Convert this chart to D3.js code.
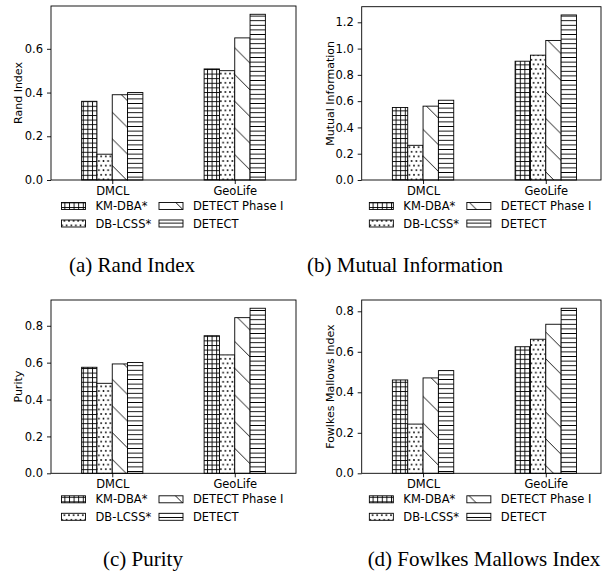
<!DOCTYPE html>
<html>
<head>
<meta charset="utf-8">
<script src="https://cdn.jsdelivr.net/npm/d3@7/dist/d3.min.js"></script>
<style>
  body { margin: 0; background: #fff; }
  svg { display: block; }
</style>
</head>
<body>
<div id="charts"></div>
<script>
// --- data --- //
const datasets = ["DMCL", "GeoLife"];
const methods = ["KM-DBA*", "DB-LCSS*", "DETECT Phase I", "DETECT"];
const metricNames = ["Rand Index", "Mutual Information", "Purity", "Fowlkes Mallows Index"];
const captions = ["(a) Rand Index", "(b) Mutual Information", "(c) Purity", "(d) Fowlkes Mallows Index"];

// rows = dataset, columns = method
const randIndex = [[0.36, 0.118, 0.39, 0.40], [0.508, 0.50, 0.65, 0.758]];
const mutualInfo = [[0.552, 0.264, 0.562, 0.607], [0.904, 0.95, 1.062, 1.256]];
const purity = [[0.575, 0.488, 0.593, 0.601], [0.746, 0.642, 0.844, 0.895]];
const fowlkes = [[0.461, 0.243, 0.471, 0.507], [0.625, 0.662, 0.736, 0.815]];

const yTicks = [
  [0, 0.2, 0.4, 0.6],
  [0, 0.2, 0.4, 0.6, 0.8, 1.0, 1.2],
  [0, 0.2, 0.4, 0.6, 0.8],
  [0, 0.2, 0.4, 0.6, 0.8]
];

const allValues = [randIndex, mutualInfo, purity, fowlkes];

//--- layout ---//
const width = 611;
const height = 581;
const font = "'DejaVu Sans', sans-serif";
const fontSize = 11.5;

const panels = [
  { left: 51, right: 296, top: 6, bottom: 180, xMax: 1.5, labelX: 18, capX: 132, capY: 272 },
  { left: 361.7, right: 601, top: 6.7, bottom: 180, xMax: 1.45, labelX: 330, capX: 405, capY: 272 },
  { left: 51, right: 296, top: 300, bottom: 473.3, xMax: 1.5, labelX: 18, capX: 143, capY: 566 },
  { left: 361.7, right: 601, top: 300, bottom: 473.3, xMax: 1.45, labelX: 330, capX: 484, capY: 566 }
];

const barW = 0.125;
const patterns = ["hatchGrid", "hatchDots", "hatchDiag", "hatchHoriz"];

const svg = d3.select("#charts")
  .append("svg")
  .attr("width", width)
  .attr("height", height);

//--- hatch patterns ---//
const defs = svg.append("defs");
const s = 4.6;

const pGrid = defs.append("pattern")
  .attr("id", "hatchGrid").attr("patternUnits", "userSpaceOnUse")
  .attr("width", s).attr("height", s);
pGrid.append("rect").attr("width", s).attr("height", s).attr("fill", "#fff");
pGrid.append("path").attr("d", `M0,0.5H${s}M0.5,0V${s}`)
  .attr("stroke", "#000").attr("stroke-width", 0.9);

const pDots = defs.append("pattern")
  .attr("id", "hatchDots").attr("patternUnits", "userSpaceOnUse")
  .attr("width", s).attr("height", 2 * s);
pDots.append("rect").attr("width", s).attr("height", 2 * s).attr("fill", "#fff");
[[0, 0], [s, 0], [0, 2 * s], [s, 2 * s], [s / 2, s]].forEach(([cx, cy]) => {
  pDots.append("circle").attr("cx", cx).attr("cy", cy).attr("r", 0.9).attr("fill", "#000");
});

const d = 26.7;
const pDiag = defs.append("pattern")
  .attr("id", "hatchDiag").attr("patternUnits", "userSpaceOnUse")
  .attr("width", d).attr("height", d);
pDiag.append("rect").attr("width", d).attr("height", d).attr("fill", "#fff");
pDiag.append("path").attr("d", `M-2,-2L${d + 2},${d + 2}M${d - 2},-2L${d + 2},2M-2,${d - 2}L2,${d + 2}`)
  .attr("stroke", "#000").attr("stroke-width", 0.9);

const pHoriz = defs.append("pattern")
  .attr("id", "hatchHoriz").attr("patternUnits", "userSpaceOnUse")
  .attr("width", s).attr("height", s);
pHoriz.append("rect").attr("width", s).attr("height", s).attr("fill", "#fff");
pHoriz.append("path").attr("d", `M0,${s / 2}H${s}`)
  .attr("stroke", "#000").attr("stroke-width", 0.9);

//--- panels ---//
panels.forEach((p, k) => {
  const values = allValues[k];
  const maxVal = d3.max(values.flat());

  const xScale = d3.scaleLinear().domain([-0.5, p.xMax]).range([p.left, p.right]);
  const yScale = d3.scaleLinear().domain([0, maxVal * 1.05]).range([p.bottom, p.top]);

  const g = svg.append("g");

  // bars
  datasets.forEach((ds, i) => {
    g.selectAll(".bar" + i)
      .data(values[i])
      .enter()
      .append("rect")
      .attr("x", (v, j) => xScale(i + (j - 2) * barW))
      .attr("width", xScale(barW) - xScale(0))
      .attr("y", (v) => yScale(v))
      .attr("height", (v) => yScale(0) - yScale(v))
      .attr("fill", (v, j) => `url(#${patterns[j]})`)
      .attr("stroke", "#000")
      .attr("stroke-width", 0.9);
  });

  // y-axis
  const yAxis = d3.axisLeft(yScale).tickValues(yTicks[k]).tickFormat(d3.format(".1f"))
    .tickSize(4).tickPadding(4);
  g.append("g")
    .attr("transform", `translate(${p.left},0)`)
    .call(yAxis)
    .call((a) => a.select(".domain").remove())
    .selectAll("text")
    .style("font-family", font)
    .style("font-size", fontSize + "px")
    .attr("fill", "#000");

  // x-axis
  const xAxis = d3.axisBottom(xScale).tickValues([0, 1]).tickFormat((v) => datasets[v])
    .tickSize(4).tickPadding(3);
  g.append("g")
    .attr("transform", `translate(0,${p.bottom})`)
    .call(xAxis)
    .call((a) => a.select(".domain").remove())
    .selectAll("text")
    .style("font-family", font)
    .style("font-size", fontSize + "px")
    .attr("fill", "#000");

  g.selectAll(".tick line").attr("stroke", "#000").attr("stroke-width", 0.9);

  // frame
  g.append("rect")
    .attr("x", p.left).attr("y", p.top)
    .attr("width", p.right - p.left).attr("height", p.bottom - p.top)
    .attr("fill", "none").attr("stroke", "#000").attr("stroke-width", 0.9);

  // y label
  g.append("text")
    .attr("transform", `translate(${p.labelX},${(p.top + p.bottom) / 2}) rotate(-90)`)
    .attr("text-anchor", "middle")
    .attr("dominant-baseline", "central")
    .style("font-family", font)
    .style("font-size", "11px")
    .text(metricNames[k]);

  // legend (2 columns)
  const legX = (p.left + p.right) / 2 - 112;
  const cols = [legX, legX + 97.5];
  methods.forEach((m, j) => {
    const col = Math.floor(j / 2);
    const row = j % 2;
    const cy = p.bottom + 26 + row * 17.5;
    g.append("rect")
      .attr("x", cols[col]).attr("y", cy - 3.5)
      .attr("width", 24).attr("height", 7)
      .attr("fill", `url(#${patterns[j]})`)
      .attr("stroke", "#000").attr("stroke-width", 0.9);
    g.append("text")
      .attr("x", cols[col] + 34).attr("y", cy)
      .attr("dominant-baseline", "central")
      .style("font-family", font)
      .style("font-size", fontSize + "px")
      .text(m);
  });

  // caption
  svg.append("text")
    .attr("x", p.capX).attr("y", p.capY)
    .attr("text-anchor", "middle")
    .style("font-family", "'Liberation Serif', 'Times New Roman', serif")
    .style("font-size", "21px")
    .text(captions[k]);
});
</script>
</body>
</html>
